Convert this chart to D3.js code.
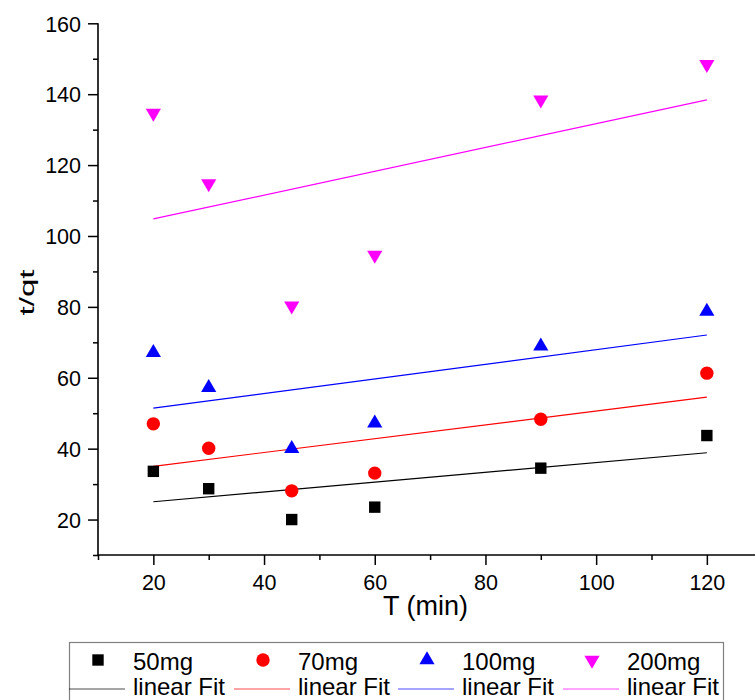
<!DOCTYPE html>
<html>
<head>
<meta charset="utf-8">
<script src="https://cdn.jsdelivr.net/npm/d3@7/dist/d3.min.js"></script>
<style>
  html, body { margin: 0; padding: 0; background: #fff; }
  svg { display: block; font-family: "Liberation Sans", Arial, sans-serif; }
</style>
</head>
<body>
<svg id="chart" width="755" height="700"></svg>
<script>
// ---- data ----
const times = [20, 30, 45, 60, 90, 120];
const s50  = [33.6, 28.7, 20.0, 23.5, 34.5, 43.7];
const s70  = [47.0, 40.1, 28.1, 33.1, 48.3, 61.3];
const s100 = [67.1, 57.2, 40.0, 47.2, 68.9, 78.7];
const s200 = [134.7, 114.8, 80.3, 94.6, 138.4, 148.4];
const seriesNames = ["50mg", "70mg", "100mg", "200mg"];
const fitLabel = "linear Fit";
const xMajorTicks = [20, 40, 60, 80, 100, 120];
const xMinorTicks = [10, 30, 50, 70, 90, 110, 130];
const yMajorTicks = [20, 40, 60, 80, 100, 120, 140, 160];
const yMinorTicks = [10, 30, 50, 70, 90, 110, 130, 150];
const xTitle = "T (min)";
const yTitle = "t/qt";

const colors = ["#000000", "#ff0000", "#0000ff", "#ff00ff"];
const shapes = ["square", "circle", "up", "down"];
const allSeries = [s50, s70, s100, s200];

const svg = d3.select("#chart");
svg.append("rect").attr("width", 755).attr("height", 700).attr("fill", "#fff");

const x = d3.scaleLinear().domain([10, 130]).range([98, 762.2]);
const y = d3.scaleLinear().domain([10, 160]).range([555, 23.3]);

function markerPath(shape) {
  if (shape === "square") { const a = 5.7; return `M${-a},${-a}H${a}V${a}H${-a}Z`; }
  if (shape === "circle") { const r = 6.7; return `M${-r},0A${r},${r} 0 1,0 ${r},0A${r},${r} 0 1,0 ${-r},0Z`; }
  const w = 7.6, h = 13;
  if (shape === "up") return `M0,${-2*h/3}L${w},${h/3}L${-w},${h/3}Z`;
  return `M0,${2*h/3}L${w},${-h/3}L${-w},${-h/3}Z`;
}

// ---- axes ----
const font = 21.5;
const gx = svg.append("g").attr("transform", "translate(0,555)");
gx.call(d3.axisBottom(x).tickValues(xMinorTicks).tickSize(5).tickSizeOuter(0).tickFormat(""));
gx.call(g => g.select(".domain").remove());
const gx2 = svg.append("g").attr("transform", "translate(0,555)");
gx2.call(d3.axisBottom(x).tickValues(xMajorTicks).tickSize(10).tickSizeOuter(0).tickPadding(10));
gx2.selectAll("text").attr("font-size", font).attr("font-family", "Liberation Sans, Arial").attr("fill", "#000").attr("dy", "0.71em");
gx2.select(".domain").attr("d", `M${x(10)},0H${x(130)}`);

const gy = svg.append("g").attr("transform", "translate(98,0)");
gy.call(d3.axisLeft(y).tickValues(yMinorTicks).tickSize(5).tickSizeOuter(0).tickFormat(""));
gy.call(g => g.select(".domain").remove());
const gy2 = svg.append("g").attr("transform", "translate(98,0)");
gy2.call(d3.axisLeft(y).tickValues(yMajorTicks).tickSize(10).tickSizeOuter(0).tickPadding(7));
gy2.selectAll("text").attr("font-size", font).attr("font-family", "Liberation Sans, Arial").attr("fill", "#000").attr("dy", "0.36em");
gy2.select(".domain").attr("d", `M0,${y(10)}V${y(160)}`);

svg.selectAll(".domain").attr("stroke", "#000").attr("stroke-width", 1.6);
svg.selectAll(".tick line").attr("stroke", "#000").attr("stroke-width", 1.5);

svg.append("text").attr("x", 425.5).attr("y", 615).attr("text-anchor", "middle")
  .attr("font-size", 27).attr("fill", "#000").text(xTitle);
svg.append("text").attr("transform", "translate(34,292.5) rotate(-90)").attr("text-anchor", "middle")
  .attr("font-size", 20).attr("textLength", 46).attr("lengthAdjust", "spacingAndGlyphs")
  .attr("fill", "#000").text(yTitle);

// ---- fits ----
function linfit(xs, ys) {
  const mx = d3.mean(xs), my = d3.mean(ys);
  let sxy = 0, sxx = 0;
  xs.forEach((xi, i) => { sxy += (xi - mx) * (ys[i] - my); sxx += (xi - mx) ** 2; });
  const b = sxy / sxx;
  return { b, a: my - b * mx };
}
const xMin = d3.min(times), xMax = d3.max(times);
allSeries.forEach((s, i) => {
  const f = linfit(times, s);
  svg.append("line")
    .attr("x1", x(xMin)).attr("y1", y(f.a + f.b * xMin))
    .attr("x2", x(xMax)).attr("y2", y(f.a + f.b * xMax))
    .attr("stroke", colors[i]).attr("stroke-width", 1.2);
});

// ---- points ----
allSeries.forEach((s, i) => {
  svg.append("g").selectAll("path").data(s).join("path")
    .attr("d", markerPath(shapes[i]))
    .attr("transform", (d, j) => `translate(${x(times[j])},${y(d)})`)
    .attr("fill", colors[i]);
});

// ---- legend ----
const leg = svg.append("g");
leg.append("rect").attr("x", 69.5).attr("y", 642.5).attr("width", 654).attr("height", 80)
  .attr("fill", "none").attr("stroke", "#808080").attr("stroke-width", 1.2);
const colStart = [133, 298, 462, 627];
seriesNames.forEach((name, i) => {
  const t = colStart[i];
  leg.append("path").attr("d", markerPath(shapes[i]))
    .attr("transform", `translate(${t - 35},660)`).attr("fill", colors[i]);
  leg.append("text").attr("x", t).attr("y", 670).attr("font-size", 24).attr("fill", "#000").text(name);
  leg.append("line").attr("x1", t - 64).attr("x2", t - 8).attr("y1", 689).attr("y2", 689)
    .attr("stroke", colors[i]).attr("stroke-width", 1).attr("opacity", 0.7);
  leg.append("text").attr("x", t).attr("y", 694.5).attr("font-size", 24).attr("fill", "#000").text(fitLabel);
});
</script>
</body>
</html>
